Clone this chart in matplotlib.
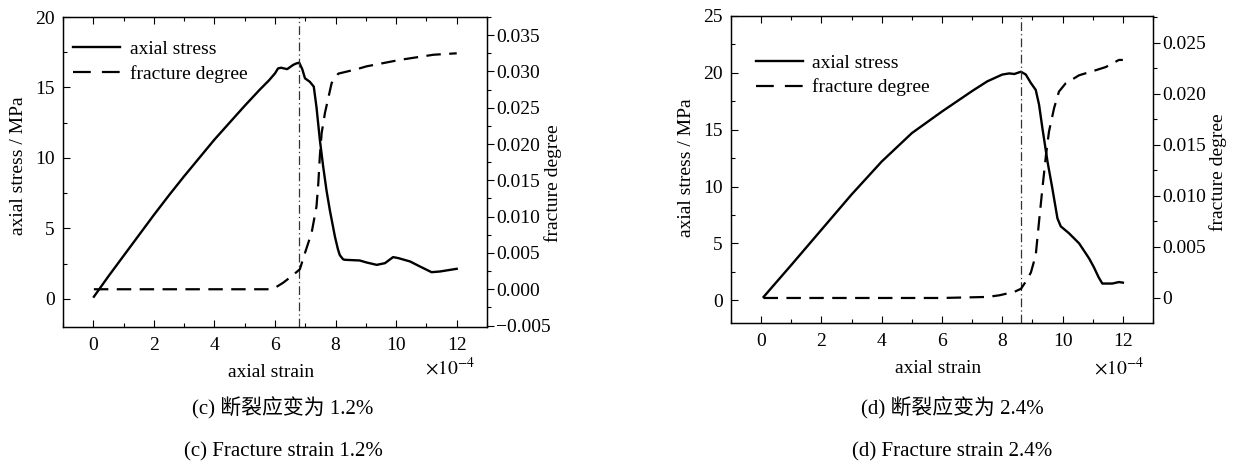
import matplotlib
matplotlib.use("Agg")
import matplotlib.pyplot as plt
from matplotlib.ticker import MultipleLocator, FuncFormatter
from matplotlib.lines import Line2D

plt.rcParams['font.family'] = ['Liberation Serif', 'Noto Sans CJK SC', 'DejaVu Sans']
plt.rcParams['mathtext.fontset'] = 'stix'

# ---------------- data (strain in units of 1e-4) ----------------
strain_c = [0.02, 0.5, 1.0, 1.5, 2.0, 2.5, 3.0, 3.5, 4.0, 4.5, 5.0, 5.5, 5.8, 6.0,
            6.1, 6.2, 6.3, 6.4, 6.5, 6.6, 6.7, 6.8, 6.9, 6.99, 7.15, 7.28, 7.37,
            7.48, 7.59, 7.7, 7.81, 7.98, 8.08, 8.14, 8.25, 8.31, 8.5, 8.8, 9.02,
            9.36, 9.63, 9.9, 10.07, 10.46, 10.79, 11.17, 11.45, 12.0]
stress_c = [0.15, 1.6, 3.05, 4.5, 5.95, 7.35, 8.7, 10.0, 11.3, 12.5, 13.7, 14.85, 15.5, 16.0,
            16.35, 16.4, 16.35, 16.3, 16.45, 16.6, 16.7, 16.76, 16.3, 15.65, 15.4, 15.06, 13.6,
            11.3, 9.4, 7.7, 6.3, 4.4, 3.5, 3.1, 2.8, 2.77, 2.75, 2.72, 2.58,
            2.41, 2.53, 2.96, 2.89, 2.65, 2.29, 1.89, 1.94, 2.13]

fstrain_c = [0.02, 2.0, 4.0, 5.8, 6.0, 6.27, 6.55, 6.82, 6.99, 7.21, 7.37, 7.43, 7.48,
             7.54, 7.65, 7.87, 8.09, 8.69, 9.02, 10.13, 11.23, 12.0]
fracture_c = [0.0, 0.0, 0.0, 0.0, 0.0002, 0.0009, 0.0018, 0.00275, 0.005, 0.0078, 0.0114,
              0.0146, 0.0183, 0.0215, 0.0243, 0.0284, 0.0297, 0.0303, 0.0307, 0.0316,
              0.0323, 0.0325]

strain_d = [0.08, 1.0, 2.0, 3.0, 4.0, 5.0, 6.0, 6.5, 7.0, 7.5, 8.0, 8.23, 8.4, 8.62,
            8.78, 8.95, 9.11, 9.22, 9.33, 9.5, 9.66, 9.83, 9.94, 10.21, 10.55, 10.88,
            11.04, 11.2, 11.32, 11.65, 11.87, 12.0]
stress_d = [0.29, 3.1, 6.2, 9.3, 12.2, 14.7, 16.6, 17.5, 18.4, 19.25, 19.85, 19.95, 19.9, 20.1,
            19.85, 19.1, 18.5, 17.2, 15.15, 12.2, 9.85, 7.2, 6.5, 5.9, 5.0, 3.68,
            2.9, 2.0, 1.47, 1.47, 1.6, 1.55]

fstrain_d = [0.08, 2.0, 4.0, 6.0, 7.5, 7.9, 8.4, 8.62, 8.78, 8.95, 9.11, 9.22, 9.33,
             9.45, 9.55, 9.72, 9.88, 10.1, 10.55, 11.0, 11.43, 11.87, 12.0]
fracture_d = [0.0, 0.0, 0.0, 0.0, 0.0001, 0.00026, 0.0006, 0.0009, 0.0016, 0.0025, 0.0042,
              0.0075, 0.0107, 0.014, 0.0163, 0.0186, 0.0202, 0.021, 0.0218, 0.0222,
              0.0226, 0.0233, 0.0233]

peak_c = 6.79
peak_d = 8.62

caption_zh = ["(c) 断裂应变为 1.2%", "(d) 断裂应变为 2.4%"]
caption_en = ["(c) Fracture strain 1.2%", "(d) Fracture strain 2.4%"]

FS = 14
W, H = 1241, 466
fig = plt.figure(figsize=(W / 100, H / 100), dpi=100)


def frac_box(x0, y0, x1, y1):
    return [x0 / W, 1 - y1 / H, (x1 - x0) / W, (y1 - y0) / H]


def fmt_c(v, pos):
    s = f"{v:.3f}"
    if s.startswith('-'):
        s = '\u2212' + s[1:]
    return s


def fmt_d(v, pos):
    if abs(v) < 1e-9:
        return "0"
    return f"{v:.3f}"


panels = [
    dict(box=(63, 17, 487, 327), strain=strain_c, stress=stress_c, fstrain=fstrain_c,
         frac=fracture_c, peak=peak_c, ylim=(-2, 20), flim=(-0.0052, 0.0375),
         ymaj=5, fticks=[-0.005, 0, 0.005, 0.01, 0.015, 0.02, 0.025, 0.03, 0.035],
         fmt=fmt_c, leg=(0.024, 0.925), ylab_y=0.52, flab_y=0.465, flab_x=1.155,
         off=(0.972, -0.132), cap_x=283, cz=0),
    dict(box=(731, 16, 1153, 323), strain=strain_d, stress=stress_d, fstrain=fstrain_d,
         frac=fracture_d, peak=peak_d, ylim=(-2, 25), flim=(-0.00245, 0.0276),
         ymaj=5, fticks=[0, 0.005, 0.01, 0.015, 0.02, 0.025],
         fmt=fmt_d, leg=(0.059, 0.876), ylab_y=0.506, flab_y=0.49, flab_x=1.155,
         off=(0.980, -0.144), cap_x=952, cz=1),
]

for p in panels:
    ax = fig.add_axes(frac_box(*p['box']))
    ax2 = ax.twinx()
    ax.plot(p['strain'], p['stress'], color='black', lw=1.7, solid_joinstyle='round')
    ax2.plot(p['fstrain'], p['frac'], color='black', lw=1.6, dashes=(6.5, 3.8))
    ax.axvline(p['peak'], color='#333333', lw=0.9, linestyle=(0, (7, 2.5, 1, 2.5)))

    ax.set_xlim(-1, 13)
    ax.set_ylim(*p['ylim'])
    ax2.set_ylim(*p['flim'])

    ax.xaxis.set_major_locator(MultipleLocator(2))
    ax.xaxis.set_minor_locator(MultipleLocator(1))
    ax.yaxis.set_major_locator(MultipleLocator(p['ymaj']))
    ax.yaxis.set_minor_locator(MultipleLocator(p['ymaj'] / 2))
    ax2.set_yticks(p['fticks'])
    ax2.yaxis.set_minor_locator(MultipleLocator(0.0025))
    ax2.yaxis.set_major_formatter(FuncFormatter(p['fmt']))

    ax.tick_params(axis='both', which='both', direction='in', labelsize=FS,
                   top=True, right=False)
    ax.tick_params(axis='both', which='major', length=5, width=0.8)
    ax.tick_params(axis='both', which='minor', length=3, width=0.8)
    ax.tick_params(axis='x', which='major', pad=7)
    ax.tick_params(axis='y', which='major', pad=6)
    ax2.tick_params(axis='y', which='both', direction='out', labelsize=FS, pad=1.5)
    ax2.tick_params(axis='y', which='major', length=5, width=0.8)
    ax2.tick_params(axis='y', which='minor', length=3, width=0.8)
    for a in (ax, ax2):
        for s in a.spines.values():
            s.set_linewidth(0.9)

    ax.set_xlabel('axial strain', fontsize=FS, va='center')
    ax.xaxis.set_label_coords(0.49, -0.148)
    ax.set_ylabel('axial stress / MPa', fontsize=FS, va='center')
    ax.yaxis.set_label_coords(-0.106, p['ylab_y'])
    ax2.set_ylabel('fracture degree', fontsize=FS, va='center')
    ax2.yaxis.set_label_coords(p['flab_x'], p['flab_y'])

    ax.text(p['off'][0], p['off'][1], r'$\times10^{-4}$', transform=ax.transAxes,
            ha='right', va='center', fontsize=FS)

    handles = [Line2D([], [], color='black', lw=1.7),
               Line2D([], [], color='black', lw=1.6, dashes=(8, 5))]
    ax.legend(handles, ['axial stress', 'fracture degree'], loc='upper left',
              bbox_to_anchor=p['leg'], frameon=False, fontsize=FS, borderpad=0,
              borderaxespad=0, handlelength=2.4, handletextpad=0.5, labelspacing=0.35)

    fig.text(p['cap_x'] / W, 1 - 408 / H, caption_zh[p['cz']], ha='center', va='center',
             fontsize=15)
    fig.text(p['cap_x'] / W, 1 - 452 / H, caption_en[p['cz']], ha='center', va='center',
             fontsize=15)

fig.savefig('out.png', dpi=100)
